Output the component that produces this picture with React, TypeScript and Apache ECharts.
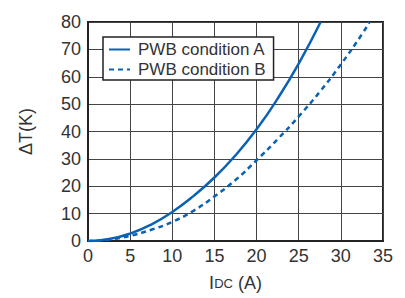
import React, { useEffect, useRef } from "react";
import * as echarts from "echarts";

const xTicks = [0, 5, 10, 15, 20, 25, 30, 35];
const yTicks = [0, 10, 20, 30, 40, 50, 60, 70, 80];
const seriesNames = ["PWB condition A", "PWB condition B"];
const currentA = [0, 2.5, 5, 7.5, 10, 12.5, 15, 17.5, 20, 22.5, 25, 27.6];
const tempA = [0, 0.7, 2.7, 6, 10.6, 16.4, 23.2, 31.3, 40.8, 52, 64.8, 80];
const currentB = [0, 2.5, 5, 7.5, 10, 12.5, 15, 17.5, 20, 22.5, 25, 27.5, 30, 32.5, 33.4];
const tempB = [0, 0.5, 1.9, 4.1, 7, 11, 16.3, 22.3, 29.5, 37.2, 45.5, 54.5, 64.5, 75.5, 80];

const BLUE = "#0b62b3";
const FONT = "Liberation Sans";
const TEXT = "#333";

export default function App() {
  const ref = useRef<HTMLDivElement>(null);
  useEffect(() => {
    const chart = echarts.init(ref.current!, null, { renderer: "svg" });
    const axisLabel = { color: TEXT, fontSize: 18, fontFamily: FONT };
    chart.setOption({
      animation: false,
      grid: {
        left: 88,
        right: 22,
        top: 22,
        bottom: 57,
        show: true,
        borderColor: "#222",
        borderWidth: 2,
      },
      legend: {
        data: seriesNames,
        orient: "vertical",
        left: 103,
        top: 37,
        itemWidth: 21,
        itemHeight: 10,
        itemGap: 3,
        padding: [4, 8, 2, 5],
        backgroundColor: "#fff",
        borderColor: "#222",
        borderWidth: 1.5,
        borderRadius: 0,
        itemStyle: { opacity: 0 },
        textStyle: { color: TEXT, fontSize: 17, fontFamily: FONT, padding: [0, 0, 0, 3] },
      },
      xAxis: {
        type: "value",
        min: xTicks[0],
        max: xTicks[xTicks.length - 1],
        interval: 5,
        axisLine: { show: true, lineStyle: { color: "#222", width: 2 } },
        axisTick: { show: false },
        splitLine: { show: true, lineStyle: { color: "#444", width: 1 } },
        axisLabel: { ...axisLabel, margin: 6 },
        name: "{a|I}{b|DC}{a| (A)}",
        nameLocation: "middle",
        nameGap: 33,
        nameTextStyle: {
          rich: {
            a: { fontSize: 18, color: TEXT, fontFamily: FONT },
            b: { fontSize: 13, color: TEXT, fontFamily: FONT },
          },
        },
      },
      yAxis: {
        type: "value",
        min: yTicks[0],
        max: yTicks[yTicks.length - 1],
        interval: 10,
        axisLine: { show: true, lineStyle: { color: "#222", width: 2 } },
        axisTick: { show: false },
        splitLine: { show: true, lineStyle: { color: "#444", width: 1 } },
        axisLabel: { ...axisLabel, margin: 7 },
        name: "ΔT(K)",
        nameLocation: "middle",
        nameGap: 53,
        nameTextStyle: { color: TEXT, fontSize: 18, fontFamily: FONT },
      },
      series: [
        {
          name: seriesNames[0],
          type: "line",
          smooth: 0.5,
          symbol: "none",
          data: currentA.map((x, i) => [x, tempA[i]]),
          lineStyle: { color: BLUE, width: 2.5 },
          itemStyle: { color: BLUE },
        },
        {
          name: seriesNames[1],
          type: "line",
          smooth: 0.5,
          symbol: "none",
          data: currentB.map((x, i) => [x, tempB[i]]),
          lineStyle: { color: BLUE, width: 2.5, type: [5, 4] },
          itemStyle: { color: BLUE },
        },
      ],
    });
    return () => chart.dispose();
  }, []);
  return <div ref={ref} style={{ width: 405, height: 298, position: "absolute", left: 0, top: 0 }} />;
}
